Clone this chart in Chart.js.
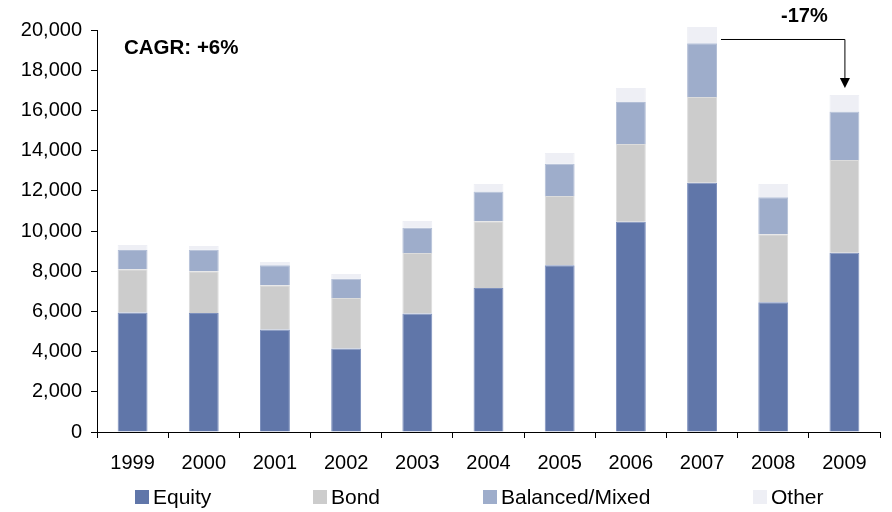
<!DOCTYPE html>
<html>
<head>
<meta charset="utf-8">
<script src="https://cdn.jsdelivr.net/npm/chart.js@4"></script>
<style>
  html, body { margin: 0; padding: 0; background: #fff; }
  #wrap { width: 892px; height: 512px; }
</style>
</head>
<body>
<div id="wrap"><canvas id="chart" width="892" height="512"></canvas></div>
<script>
// data
const years = ["1999", "2000", "2001", "2002", "2003", "2004", "2005", "2006", "2007", "2008", "2009"];
const equity = [5950, 5920, 5100, 4150, 5890, 7160, 8290, 10460, 12400, 6450, 8920];
const bond = [2150, 2080, 2200, 2520, 3010, 3320, 3450, 3870, 4270, 3390, 4610];
const balanced = [950, 1070, 990, 960, 1260, 1480, 1610, 2090, 2670, 1840, 2410];
const other = [250, 180, 170, 230, 340, 380, 530, 690, 810, 660, 830];
const yTicks = [0, 2000, 4000, 6000, 8000, 10000, 12000, 14000, 16000, 18000, 20000];
const cagrText = "CAGR: +6%";
const dropText = "-17%";

const FONT = "'Liberation Sans', Arial, sans-serif";

// legend is drawn by hand so the items sit where the original has them
const legendPlugin = {
    id: 'bottomLegend',
    afterDraw(chart) {
        const ctx = chart.ctx;
        const xs = [135, 313, 483, 753];
        ctx.save();
        ctx.font = "21px " + FONT;
        ctx.textBaseline = 'middle';
        chart.data.datasets.forEach((ds, i) => {
            const x = xs[i];
            const y = 497;
            ctx.fillStyle = ds.backgroundColor;
            ctx.fillRect(x, y - 7, 14, 14);
            ctx.fillStyle = '#000';
            ctx.fillText(ds.label, x + 18, y + 1);
        });
        ctx.restore();
    }
};

// the two text notes and the 2007 -> 2009 arrow
const notesPlugin = {
    id: 'notes',
    afterDraw(chart) {
        const ctx = chart.ctx;
        const xs = chart.scales.x;
        const ys = chart.scales.y;
        const total = i => equity[i] + bond[i] + balanced[i] + other[i];
        const i07 = years.indexOf("2007");
        const i09 = years.indexOf("2009");
        const half = chart.getDatasetMeta(0).data[i07].width / 2;

        ctx.save();
        ctx.fillStyle = '#000';
        ctx.font = "bold 20.5px " + FONT;
        ctx.textBaseline = 'middle';
        ctx.textAlign = 'left';
        ctx.fillText(cagrText, 124, 48);

        const x1 = xs.getPixelForValue(i07) + half + 4;
        const x2 = xs.getPixelForValue(i09);
        const yTop = ys.getPixelForValue(total(i07)) + 12;
        const yTip = ys.getPixelForValue(total(i09)) - 7;

        ctx.strokeStyle = '#000';
        ctx.lineWidth = 1;
        ctx.beginPath();
        ctx.moveTo(x1, yTop + 0.5);
        ctx.lineTo(x2 + 0.5, yTop + 0.5);
        ctx.lineTo(x2 + 0.5, yTip - 9);
        ctx.stroke();
        ctx.beginPath();
        ctx.moveTo(x2 - 4.5, yTip - 10);
        ctx.lineTo(x2 + 5.5, yTip - 10);
        ctx.lineTo(x2 + 0.5, yTip);
        ctx.closePath();
        ctx.fill();

        ctx.font = "bold 20px " + FONT;
        ctx.textAlign = 'center';
        ctx.fillText(dropText, x2 - 40, 16);
        ctx.restore();
    }
};

function makeSet(label, data, color, edge) {
    return {
        label: label,
        data: data,
        backgroundColor: color,
        borderColor: edge,
        borderWidth: 1,
        barPercentage: 0.42,
        categoryPercentage: 1,
        clip: false
    };
}

const chart = new Chart(document.getElementById('chart'), {
    type: 'bar',
    data: {
        labels: years,
        datasets: [
            makeSet("Equity", equity, '#6076a9', '#7d90bd'),
            makeSet("Bond", bond, '#cccccc', '#dcdcdc'),
            makeSet("Balanced/Mixed", balanced, '#9eadcb', '#b2bed6'),
            makeSet("Other", other, '#eeeff5', '#eeeff5')
        ]
    },
    options: {
        responsive: false,
        animation: false,
        layout: { padding: { top: 30, right: 12, bottom: 30, left: 0 } },
        plugins: {
            legend: { display: false },
            tooltip: { enabled: false }
        },
        scales: {
            x: {
                stacked: true,
                grid: { drawOnChartArea: false, color: '#000', tickLength: 6, offset: true },
                border: { color: '#000', width: 1 },
                ticks: { color: '#000', font: { family: FONT, size: 20 }, padding: 13, maxRotation: 0 },
                afterFit(scale) { scale.height = 50; }
            },
            y: {
                stacked: true,
                min: 0,
                max: 20000,
                afterBuildTicks(scale) { scale.ticks = yTicks.map(v => ({ value: v })); },
                grid: { drawOnChartArea: false, color: '#000', tickLength: 6 },
                border: { color: '#000', width: 1 },
                ticks: {
                    color: '#000',
                    font: { family: FONT, size: 20 },
                    padding: 9,
                    callback: v => v.toLocaleString('en-US')
                },
                afterFit(scale) { scale.width = 97; }
            }
        }
    },
    plugins: [legendPlugin, notesPlugin]
});
</script>
</body>
</html>
